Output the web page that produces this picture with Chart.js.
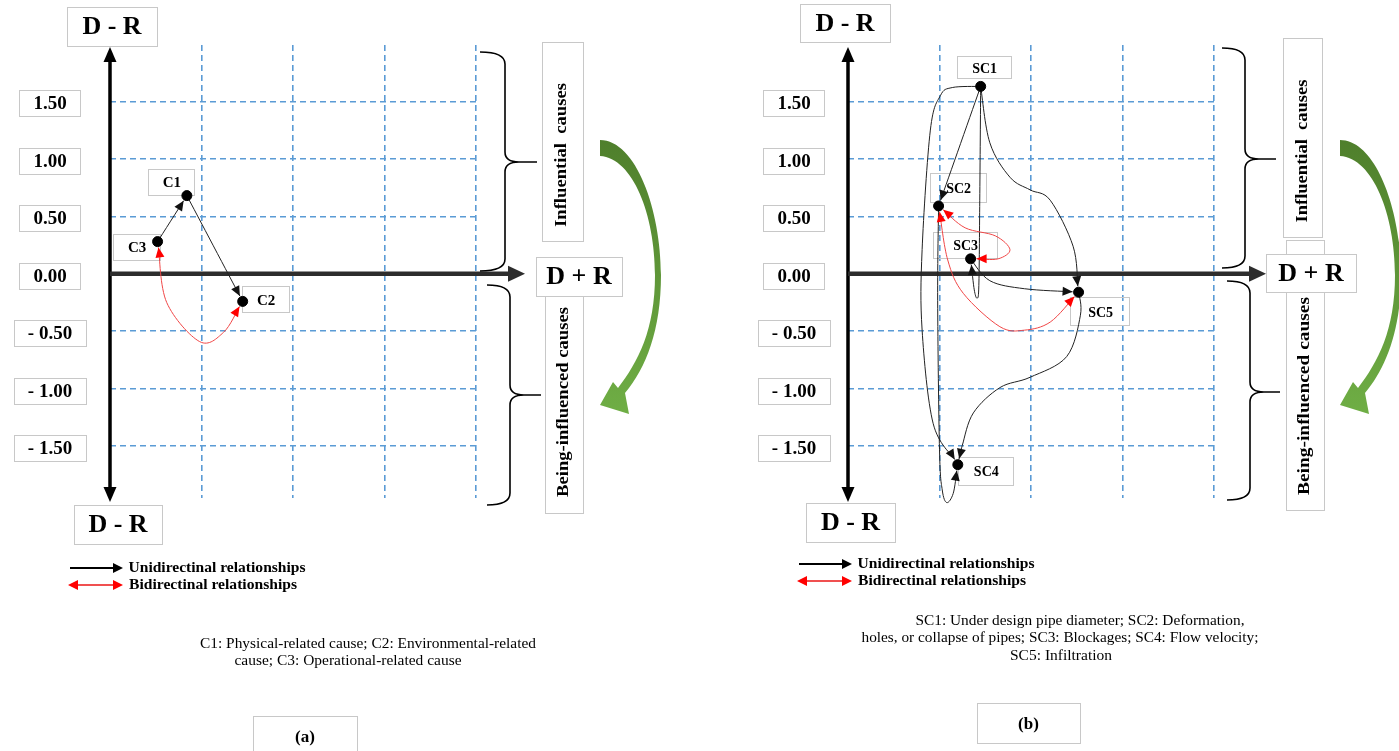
<!DOCTYPE html>
<html>
<head>
<meta charset="utf-8">
<script src="https://cdn.jsdelivr.net/npm/chart.js@4.4.1/dist/chart.umd.min.js"></script>
<style>
    html, body { margin: 0; padding: 0; background: #fff; }
    #wrap { position: relative; width: 1399px; height: 751px; overflow: hidden; }
    canvas { position: absolute; top: 0; }
    #chartA { left: 0; }
    #chartB { left: 738px; }
</style>
</head>
<body>
<div id="wrap">
    <canvas id="chartA" width="700" height="751"></canvas>
    <canvas id="chartB" width="661" height="751"></canvas>
</div>
<script>
// D - R ticks and D + R grid columns
const yTicks = [1.5, 1.0, 0.5, 0, -0.5, -1.0, -1.5];
const xGrid = [1, 2, 3, 4];

// (a) main causes
const causesA = ["C1", "C2", "C3"];
const dPlusRA = [0.84, 1.45, 0.52];
const dMinusRA = [0.68, -0.24, 0.28];
const linksA = [["C3", "C1", "uni"], ["C1", "C2", "uni"], ["C3", "C2", "bi"]];

// (b) sub-causes
const causesB = ["SC1", "SC2", "SC3", "SC4", "SC5"];
const dPlusRB = [1.45, 0.99, 1.34, 1.20, 2.52];
const dMinusRB = [1.63, 0.59, 0.13, -1.66, -0.16];
const linksB = [
    ["SC1", "SC2", "uni"], ["SC1", "SC3", "uni"], ["SC1", "SC5", "uni"], ["SC1", "SC4", "uni"],
    ["SC2", "SC4", "uni"], ["SC3", "SC5", "uni"], ["SC5", "SC4", "uni"],
    ["SC2", "SC3", "bi"], ["SC2", "SC5", "bi"],
];

const captionA = ["C1: Physical-related cause; C2: Environmental-related", "cause; C3: Operational-related cause"];
const captionB = ["SC1: Under design pipe diameter; SC2: Deformation,",
    "holes, or collapse of pipes; SC3: Blockages; SC4: Flow velocity;", "SC5: Infiltration"];

// how the curved links bend (in D+R / D-R units)
const bendsA = {
    "C3-C2": [[0.62, -0.25], [0.98, -0.59], [1.24, -0.51]],
};
const bendsB = {
    "SC1-SC3": [[1.44, 0.64], [1.43, -0.10], [1.41, -0.21], [1.38, -0.14]],
    "SC1-SC5": [[1.55, 1.14], [1.77, 0.84], [1.99, 0.73], [2.21, 0.64], [2.46, 0.24]],
    "SC1-SC4": [[1.14, 1.62], [1.01, 1.55], [0.90, 1.25], [0.81, 0.21], [0.81, -0.49], [0.93, -1.30]],
    "SC2-SC4": [[0.98, -0.23], [1.0, -1.53], [1.03, -1.88], [1.08, -1.99], [1.15, -1.91]],
    "SC3-SC5": [[1.55, -0.06], [1.93, -0.13]],
    "SC5-SC4": [[2.54, -0.36], [2.39, -0.72], [1.99, -0.90], [1.66, -0.99], [1.37, -1.21], [1.25, -1.49]],
    "SC2-SC3": [[1.28, 0.40], [1.61, 0.33], [1.77, 0.21], [1.64, 0.13]],
    "SC2-SC5": [[1.09, 0.12], [1.26, -0.17], [1.66, -0.46], [1.93, -0.49], [2.21, -0.42]],
};

const SERIF = "'Liberation Serif', 'Times New Roman', serif";

const layoutA = {
    tickCx: 50, topBox: [67, 7, 90, 39], bottomBox: [74, 505, 88, 39], drBox: [536, 257, 86, 39], xTip: 525,
    inflBox: [542, 42, 41, 199], inflText: [562, 155, 144], beingBox: [545, 296, 38, 217], beingText: [564, 402, 190],
    braceUp: [480, 505, 52, 162, 271, 537], braceDown: [487, 510, 285, 395, 505, 541],
    legend: [70, 568, 585, 129], caption: [[368, 644, 336], [348, 661, 227]], tag: [253, 716, 104, 40, "(a)"], green: 0,
    labels: { C1: [-16, -14, 46, 26], C2: [22.5, -2, 47, 26], C3: [-21.5, 5, 47, 26] }, labelFont: 15,
};
const layoutB = {
    tickCx: 56, topBox: [62, 4, 90, 38], bottomBox: [68, 503, 89, 39], drBox: [528, 254, 90, 38], xTip: 528,
    inflBox: [545, 38, 39, 199], inflText: [565, 151, 143], beingBox: [548, 240, 38, 270], beingText: [567, 396, 198],
    braceUp: [484, 507, 48, 159, 268, 538], braceDown: [489, 512, 281, 392, 500, 542],
    legend: [61, 564, 581, 120], caption: [[342, 621, 329], [322, 638, 397], [323, 656, 102]], tag: [239, 703, 103, 40, "(b)"], green: 2,
    labels: { SC1: [3, -19, 54, 22], SC2: [19, -18.5, 56, 29], SC3: [-6, -14, 64, 26], SC4: [27.5, 6, 55, 28], SC5: [21, 19, 59, 28] }, labelFont: 14,
};

const head = (ctx, tip, from, len, half, color) => {
    const dx = tip.x - from.x, dy = tip.y - from.y, d = Math.hypot(dx, dy) || 1;
    const ux = dx / d, uy = dy / d;
    const bx = tip.x - ux * len, by = tip.y - uy * len;
    ctx.beginPath();
    ctx.moveTo(tip.x, tip.y);
    ctx.lineTo(bx - uy * half, by + ux * half);
    ctx.lineTo(bx + uy * half, by - ux * half);
    ctx.closePath();
    ctx.fillStyle = color;
    ctx.fill();
};

// smooth curve through the points (catmull-rom)
const smooth = (ctx, p) => {
    ctx.moveTo(p[0].x, p[0].y);
    for (let i = 0; i < p.length - 1; i++) {
        const p0 = p[i - 1] || p[i], p1 = p[i], p2 = p[i + 1], p3 = p[i + 2] || p2;
        ctx.bezierCurveTo(p1.x + (p2.x - p0.x) / 6, p1.y + (p2.y - p0.y) / 6,
            p2.x - (p3.x - p1.x) / 6, p2.y - (p3.y - p1.y) / 6, p2.x, p2.y);
    }
};

const towards = (a, b, r) => {
    const d = Math.hypot(b.x - a.x, b.y - a.y) || 1;
    return { x: a.x + (b.x - a.x) * r / d, y: a.y + (b.y - a.y) * r / d };
};

const text = (ctx, s, x, y, font, width, rot) => {
    ctx.save();
    ctx.font = font;
    ctx.fillStyle = "#000";
    ctx.textAlign = "center";
    ctx.textBaseline = "middle";
    ctx.translate(x, y);
    if (rot) ctx.rotate(rot);
    if (width) ctx.scale(width / ctx.measureText(s).width, 1);
    ctx.fillText(s, 0, 0);
    ctx.restore();
};

const box = (ctx, x, y, w, h, fill) => {
    if (fill) { ctx.fillStyle = "#fff"; ctx.fillRect(x, y, w, h); }
    ctx.strokeStyle = "#c8c8c8";
    ctx.lineWidth = 1;
    ctx.strokeRect(Math.round(x) + 0.5, Math.round(y) + 0.5, Math.round(w), Math.round(h));
};

const brace = (ctx, b) => {
    const [x0, xv, top, mid, bot, tip] = b;
    ctx.beginPath();
    ctx.moveTo(x0, top);
    ctx.quadraticCurveTo(xv, top, xv, top + 12);
    ctx.lineTo(xv, mid - 10);
    ctx.quadraticCurveTo(xv, mid, xv + 14, mid);
    ctx.lineTo(tip, mid);
    ctx.moveTo(xv + 14, mid);
    ctx.quadraticCurveTo(xv, mid, xv, mid + 10);
    ctx.lineTo(xv, bot - 12);
    ctx.quadraticCurveTo(xv, bot, x0, bot);
    ctx.strokeStyle = "#000";
    ctx.lineWidth = 1.6;
    ctx.stroke();
};

const greenArrow = (ctx, o) => {
    ctx.save();
    ctx.translate(o, 0);
    const g = ctx.createLinearGradient(0, 140, 0, 415);
    g.addColorStop(0, "#4f7f2c");
    g.addColorStop(1, "#6fae45");
    ctx.beginPath();
    ctx.moveTo(600, 140);
    ctx.bezierCurveTo(636, 140, 661, 210, 661, 275);
    ctx.bezierCurveTo(661, 330, 646, 368, 625, 393);
    ctx.lineTo(629, 414);
    ctx.lineTo(600, 405);
    ctx.lineTo(613, 382);
    ctx.lineTo(618, 388);
    ctx.bezierCurveTo(638, 362, 655, 330, 655, 275);
    ctx.bezierCurveTo(655, 215, 633, 158, 600, 156);
    ctx.closePath();
    ctx.fillStyle = g;
    ctx.fill();
    ctx.restore();
};

const labelBox = (L, e, n) => {
    const [ox, oy, w, h] = L.labels[n];
    return { cx: e.x + ox, cy: e.y + oy, w, h };
};

const makePlugin = (names, links, bends, L) => ({
    id: "diagram",
    beforeDatasetsDraw(chart) {
        const ctx = chart.ctx, xs = chart.scales.x, ys = chart.scales.y, ca = chart.chartArea;
        const X = xs.getPixelForValue(0), Y0 = ys.getPixelForValue(0);
        const meta = chart.getDatasetMeta(0);
        ctx.save();
        // label frames sit under the points
        names.forEach((n, i) => {
            const b = labelBox(L, meta.data[i], n);
            box(ctx, b.cx - b.w / 2, b.cy - b.h / 2, b.w, b.h);
        });
        // D - R axis, arrows both ways
        ctx.strokeStyle = "#000";
        ctx.lineWidth = 3.5;
        ctx.beginPath();
        ctx.moveTo(X, ca.top + 12);
        ctx.lineTo(X, ca.bottom - 8);
        ctx.stroke();
        head(ctx, { x: X, y: ca.top + 2 }, { x: X, y: ca.top + 30 }, 15, 6.5, "#000");
        head(ctx, { x: X, y: ca.bottom + 4 }, { x: X, y: ca.bottom - 30 }, 15, 6.5, "#000");
        // D + R axis
        ctx.strokeStyle = "#2d2d2d";
        ctx.lineWidth = 4.5;
        ctx.beginPath();
        ctx.moveTo(X, Y0);
        ctx.lineTo(L.xTip - 12, Y0);
        ctx.stroke();
        head(ctx, { x: L.xTip, y: Y0 }, { x: X, y: Y0 }, 17, 8, "#2d2d2d");

        // links
        const P = (name) => { const e = meta.data[names.indexOf(name)]; return { x: e.x, y: e.y }; };
        links.forEach(([a, b, kind]) => {
            const via = (bends[a + "-" + b] || []).map(([vx, vy]) => ({ x: xs.getPixelForValue(vx), y: ys.getPixelForValue(vy) }));
            const pts = [P(a), ...via, P(b)];
            const n = pts.length;
            const color = kind === "bi" ? "#ff0000" : "#111";
            pts[n - 1] = towards(pts[n - 1], pts[n - 2], 6);
            if (kind === "bi") pts[0] = towards(pts[0], pts[1], 6);
            ctx.beginPath();
            smooth(ctx, pts);
            ctx.strokeStyle = kind === "bi" ? "#f04646" : "#222";
            ctx.lineWidth = 1;
            ctx.stroke();
            head(ctx, pts[n - 1], pts[n - 2], 10, 4.5, color);
            if (kind === "bi") head(ctx, pts[0], pts[1], 10, 4.5, color);
        });
        ctx.restore();
    },
    afterDraw(chart) {
        const ctx = chart.ctx, ys = chart.scales.y;
        ctx.save();
        // tick label boxes from the y scale's ticks
        ys.ticks.forEach((t) => {
            const s = t.value < 0 ? "- " + Math.abs(t.value).toFixed(2) : t.value.toFixed(2);
            const y = ys.getPixelForValue(t.value) + 2;
            ctx.font = "bold 19px " + SERIF;
            const w = ctx.measureText(s).width + 28;
            box(ctx, L.tickCx - w / 2, y - 13, w, 26);
            text(ctx, s, L.tickCx, y + 1, "bold 19px " + SERIF);
        });
        // axis titles
        const big = "bold 26px " + SERIF;
        [L.topBox, L.bottomBox].forEach(([x, y, w, h]) => {
            box(ctx, x, y, w, h, true);
            text(ctx, "D - R", x + w / 2, y + h / 2 + 1, big);
        });
        // side boxes and braces
        box(ctx, ...L.inflBox);
        text(ctx, "Influential  causes", L.inflText[0], L.inflText[1], "bold 16px " + SERIF, L.inflText[2], -Math.PI / 2);
        box(ctx, ...L.beingBox);
        text(ctx, "Being-influenced causes", L.beingText[0], L.beingText[1], "bold 16px " + SERIF, L.beingText[2], -Math.PI / 2);
        const [dx, dy, dw, dh] = L.drBox;
        box(ctx, dx, dy, dw, dh, true);
        text(ctx, "D + R", dx + dw / 2, dy + dh / 2 + 1, big);
        brace(ctx, L.braceUp);
        brace(ctx, L.braceDown);
        greenArrow(ctx, L.green);

        // point labels
        const meta = chart.getDatasetMeta(0);
        names.forEach((n, i) => {
            const b = labelBox(L, meta.data[i], n);
            text(ctx, n, b.cx + 1, b.cy + 2, "bold " + L.labelFont + "px " + SERIF);
        });

        // legend
        const [lx, ly1, ly2, tx] = L.legend;
        ctx.strokeStyle = "#000";
        ctx.lineWidth = 2;
        ctx.beginPath();
        ctx.moveTo(lx, ly1);
        ctx.lineTo(lx + 45, ly1);
        ctx.stroke();
        head(ctx, { x: lx + 53, y: ly1 }, { x: lx, y: ly1 }, 10, 5, "#000");
        ctx.strokeStyle = "#f05050";
        ctx.beginPath();
        ctx.moveTo(lx + 4, ly2);
        ctx.lineTo(lx + 46, ly2);
        ctx.stroke();
        head(ctx, { x: lx + 53, y: ly2 }, { x: lx, y: ly2 }, 10, 5, "#ff0000");
        head(ctx, { x: lx - 2, y: ly2 }, { x: lx + 53, y: ly2 }, 10, 5, "#ff0000");
        const lf = "bold 14px " + SERIF;
        text(ctx, "Unidirectinal relationships", tx + 88, ly1, lf, 177);
        text(ctx, "Bidirectinal relationships", tx + 84, ly2, lf, 168);

        // caption and panel tag
        const cap = L.caption.length === 2 ? captionA : captionB;
        L.caption.forEach(([cx, cy, w], i) => text(ctx, cap[i], cx, cy, "14px " + SERIF, w));
        const [gx, gy, gw, gh, tag] = L.tag;
        box(ctx, gx, gy, gw, gh);
        text(ctx, tag, gx + gw / 2, gy + gh / 2 + 2, "bold 17px " + SERIF);
        ctx.restore();
    },
});

const makeChart = (id, names, dPlusR, dMinusR, links, bends, L) => {
    const canvas = document.getElementById(id);
    const blue = (c) => (c.tick && c.tick.value === 0 ? "rgba(0,0,0,0)" : "#5b9bd5");
    return new Chart(canvas, {
        type: "scatter",
        plugins: [makePlugin(names, links, bends, L)],
        data: {
            datasets: [{
                data: names.map((n, i) => ({ x: dPlusR[i], y: dMinusR[i] })),
                pointRadius: 5,
                pointBackgroundColor: "#000",
                pointBorderColor: "#000",
                pointBorderWidth: 1,
                backgroundColor: "#000",
                borderColor: "#000",
            }],
        },
        options: {
            responsive: false,
            animation: false,
            layout: { padding: { left: 110, right: canvas.width - 476, top: 45, bottom: 751 - 498 } },
            plugins: { legend: { display: false }, tooltip: { enabled: false } },
            scales: {
                x: {
                    type: "linear", min: 0, max: 4,
                    afterBuildTicks: (s) => { s.ticks = xGrid.map((v) => ({ value: v })); },
                    afterFit: (s) => { s.height = 0; },
                    ticks: { display: false },
                    grid: { color: blue, lineWidth: 1.6, drawTicks: false },
                    border: { display: false, dash: [6, 4] },
                },
                y: {
                    type: "linear", min: -1.95, max: 1.99,
                    afterBuildTicks: (s) => { s.ticks = yTicks.map((v) => ({ value: v })); },
                    afterFit: (s) => { s.width = 0; },
                    ticks: { display: false },
                    grid: { color: blue, lineWidth: 1.6, drawTicks: false },
                    border: { display: false, dash: [6, 4] },
                },
            },
        },
    });
};

makeChart("chartA", causesA, dPlusRA, dMinusRA, linksA, bendsA, layoutA);
makeChart("chartB", causesB, dPlusRB, dMinusRB, linksB, bendsB, layoutB);
</script>
</body>
</html>
